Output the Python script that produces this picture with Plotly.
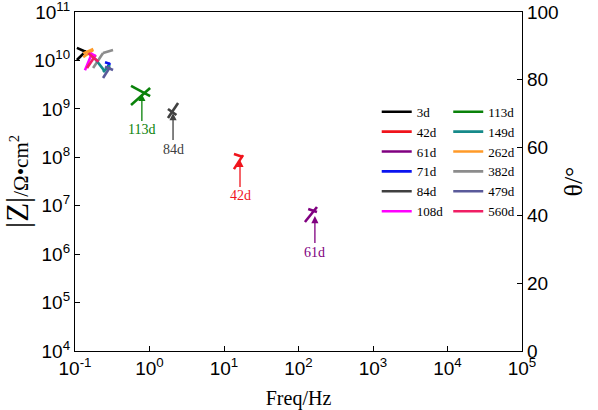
import math
import plotly.graph_objects as go

# ---------------- data ----------------
series = ["3d", "42d", "61d", "71d", "84d", "108d",
          "113d", "149d", "262d", "382d", "479d", "560d"]
colors = ["#000000", "#f0141c", "#800080", "#0a14f0", "#404040", "#ff00ff",
          "#0a820a", "#168a8a", "#ff9a28", "#8c8c8c", "#5a5a9a", "#f01e64"]

# |Z| segments (frequency in Hz, |Z| in ohm*cm^2)
z_freq = [[0.106, 0.141], [13.6, 18.0], [122, 177], [0.269, 0.295], [1.77, 2.42], [0.136, 0.167],
          [0.565, 1.02], [0.238, 0.295], [0.129, 0.176], [0.175, 0.238], [0.238, 0.295], [0.145, 0.190]]
z_vals = [[1.02e10, 1.57e10], [5.7e7, 1.11e8], [4.6e6, 9.4e6], [6.98e9, 8.85e9], [6.5e8, 1.32e9], [6.3e9, 1.34e10],
          [1.2e9, 2.7e9], [5.77e9, 8.05e9], [1.17e10, 1.64e10], [6.98e9, 1.42e10], [4.34e9, 7.31e9], [6.98e9, 1.29e10]]

# phase angle segments (frequency in Hz, theta in degrees)
t_freq = [[0.106, 0.141], [13.6, 18.0], [135, 177], [0.253, 0.295], [1.77, 2.30], [0.160, 0.190],
          [0.565, 1.02], [0.185, 0.253], [0.129, 0.176], [0.238, 0.324], [0.253, 0.324], [0.151, 0.206]]
t_vals = [[89.4, 88.2], [58.1, 57.2], [41.9, 41.0], [85.2, 84.7], [71.4, 69.6], [87.9, 87.0],
          [78.2, 75.2], [86.3, 82.4], [87.8, 89.1], [87.9, 88.8], [83.9, 82.9], [87.8, 85.3]]

# labelled arrows: series, frequency and |Z| of the arrow tip
note_names = ["113d", "84d", "42d", "61d"]
note_freq = [0.79, 2.07, 16.4, 166]
note_z = [2.03e9, 8.2e8, 8.8e7, 6.1e6]

x_ticks = [0.1, 1, 10, 100, 1000, 10000, 100000]
x_ticktext = ["10<sup>-1</sup>", "10<sup>0</sup>", "10<sup>1</sup>", "10<sup>2</sup>",
              "10<sup>3</sup>", "10<sup>4</sup>", "10<sup>5</sup>"]
y_ticks = [1e4, 1e5, 1e6, 1e7, 1e8, 1e9, 1e10, 1e11]
y_ticktext = ["10<sup>4</sup>", "10<sup>5</sup>", "10<sup>6</sup>", "10<sup>7</sup>",
              "10<sup>8</sup>", "10<sup>9</sup>", "10<sup>10</sup>", "10<sup>11</sup>"]

# ---------------- figure ----------------
fig = go.Figure()
SERIF = "Liberation Serif, Times New Roman, serif"
SANS = "Liberation Sans, Arial, sans-serif"

for i, name in enumerate(series):
    leg = "legend" if i < 6 else "legend2"
    fig.add_trace(go.Scatter(
        x=z_freq[i], y=z_vals[i], mode="lines", name=name,
        line=dict(color=colors[i], width=2.6), legend=leg, yaxis="y"))
    fig.add_trace(go.Scatter(
        x=t_freq[i], y=t_vals[i], mode="lines", name=name, showlegend=False,
        line=dict(color=colors[i], width=2.6), yaxis="y2"))

annotations = []
for nm, fx, zy in zip(note_names, note_freq, note_z):
    c = colors[series.index(nm)]
    annotations.append(dict(
        x=math.log10(fx), y=math.log10(zy),
        xref="x", yref="y", text=nm, showarrow=True,
        arrowhead=2, arrowsize=1.1, arrowwidth=1.3, arrowcolor=c,
        ax=0, ay=36, font=dict(family=SERIF, size=14, color=c)))

tickfont = dict(family=SANS, size=19, color="black")
fig.update_layout(
    width=598, height=410,
    margin=dict(l=75, r=76, t=12, b=59, autoexpand=False),
    paper_bgcolor="white", plot_bgcolor="white",
    showlegend=True,
    annotations=annotations,
    xaxis=dict(
        type="log", range=[-1.00001, 5.00001], tickvals=x_ticks, ticktext=x_ticktext,
        ticks="inside", ticklen=5, tickcolor="black", automargin=False,
        ticklabeloverflow="allow",
        showline=True, linecolor="black", linewidth=1.2, mirror=True,
        showgrid=False, zeroline=False, tickfont=tickfont,
        title=dict(text="Freq/Hz", font=dict(family=SERIF, size=20, color="black"), standoff=20)),
    yaxis=dict(
        type="log", range=[3.99999, 11.00001], tickvals=y_ticks, ticktext=y_ticktext,
        ticks="inside", ticklen=5, tickcolor="black", automargin=False,
        ticklabeloverflow="allow",
        showline=True, linecolor="black", linewidth=1.2,
        showgrid=False, zeroline=False, tickfont=tickfont,
        title=dict(text="<span style='font-size:31px'>|Z|</span>/Ω•cm<sup>2</sup>",
                   font=dict(family=SERIF, size=21, color="black"), standoff=3)),
    yaxis2=dict(
        overlaying="y", side="right", range=[0, 100], dtick=20,
        ticks="inside", ticklen=5, tickcolor="black", automargin=False,
        ticklabeloverflow="allow",
        showline=True, linecolor="black", linewidth=1.2,
        showgrid=False, zeroline=False, tickfont=tickfont,
        title=dict(text="θ/°", font=dict(family=SERIF, size=26, color="black"), standoff=6)),
    legend=dict(x=0.675, y=0.75, xanchor="left", yanchor="top",
                bgcolor="rgba(0,0,0,0)", font=dict(family=SERIF, size=13, color="black"),
                itemwidth=30, tracegroupgap=0),
    legend2=dict(x=0.835, y=0.75, xanchor="left", yanchor="top",
                 bgcolor="rgba(0,0,0,0)", font=dict(family=SERIF, size=13, color="black"),
                 itemwidth=30, tracegroupgap=0),
)

fig.write_html("out.html")
